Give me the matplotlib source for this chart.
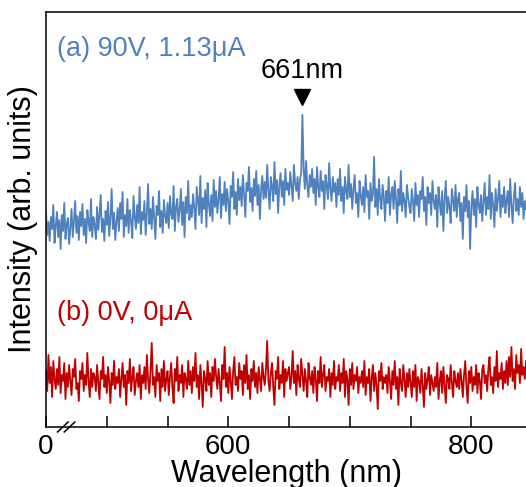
import numpy as np
import matplotlib as mpl
import matplotlib.pyplot as plt

mpl.rcParams.update({
    "font.family": ["Liberation Sans", "DejaVu Sans"],
    "axes.linewidth": 1.1,
})

C_BLUE = "#4F81BD"
C_RED = "#C00000"

# wavelength grid (nm), every 1 nm
wavelength = np.arange(450, 846, 1)

# (a) 90 V, 1.13 uA (arb. units)
spec_a = [
    214, 192, 205, 186, 210, 198, 222, 184, 201, 215, 190, 207, 178, 212, 196, 224, 188, 203, 209, 183,
    199, 218, 190, 206, 226, 194, 211, 187, 215, 201, 223, 192, 208, 184, 217, 205, 196, 228, 190, 210,
    203, 188, 220, 197, 212, 232, 195, 208, 186, 216, 202, 225, 191, 209, 238, 198, 214, 187, 205, 219,
    196, 224, 208, 235, 190, 212, 201, 228, 194, 217, 206, 189, 231, 210, 198, 222, 204, 240, 193, 215,
    207, 226, 192, 214, 243, 203, 218, 198, 230, 209, 188, 221, 212, 236, 200, 216, 194, 227, 211, 204,
    224, 199, 231, 213, 208, 241, 196, 220, 228, 205, 217, 238, 202, 225, 190, 230, 214, 246, 207, 222,
    210, 233, 219, 198, 240, 226, 212, 251, 204, 229, 218, 237, 200, 244, 223, 211, 232, 206, 247, 220,
    236, 214, 228, 250, 209, 233, 222, 245, 216, 238, 226, 203, 241, 230, 255, 218, 235, 212, 248, 227,
    240, 221, 252, 232, 210, 244, 236, 260, 225, 239, 216, 248, 231, 256, 222, 242, 208, 238, 251, 228,
    245, 229, 262, 236, 218, 250, 240, 226, 265, 233, 247, 214, 242, 254, 230, 246, 222, 258, 237, 244,
    232, 255, 240, 226, 262, 244, 236, 250, 228, 248, 254, 312, 258, 238, 266, 242, 230, 252, 240, 258,
    234, 248, 222, 260, 240, 230, 256, 236, 246, 218, 252, 241, 228, 264, 238, 226, 250, 235, 244, 220,
    248, 232, 258, 226, 240, 214, 250, 236, 228, 262, 230, 243, 218, 238, 252, 224, 234, 210, 246, 231,
    222, 240, 215, 252, 230, 236, 208, 244, 226, 232, 270, 220, 238, 212, 248, 228, 218, 242, 230, 206,
    236, 224, 250, 212, 232, 240, 218, 246, 228, 204, 238, 222, 256, 216, 234, 226, 210, 242, 230, 220,
    214, 238, 226, 206, 244, 222, 232, 210, 236, 228, 250, 216, 230, 202, 240, 224, 234, 212, 246, 226,
    218, 232, 200, 240, 224, 212, 236, 196, 228, 246, 214, 230, 220, 204, 238, 226, 216, 242, 210, 228,
    234, 206, 224, 188, 230, 216, 242, 210, 226, 178, 220, 236, 212, 228, 200, 240, 222, 214, 232, 206,
    226, 244, 212, 230, 218, 252, 208, 234, 222, 200, 238, 216, 228, 246, 210, 232, 220, 240, 214, 226,
    236, 210, 248, 222, 204, 230, 244, 216, 228, 212, 240, 220, 234, 208, 226, 218,
]

# (b) 0 V, 0 uA
spec_b = [
    56, 36, 72, 44, 60, 30, 66, 48, 38, 58, 42, 70, 34, 52, 46, 64, 28, 54, 40, 62,
    46, 32, 58, 50, 68, 38, 44, 26, 56, 48, 64, 36, 52, 42, 74, 46, 30, 58, 40, 54,
    50, 36, 62, 44, 28, 56, 48, 70, 40, 52, 34, 60, 46, 24, 54, 42, 66, 38, 50, 44,
    58, 30, 48, 64, 40, 52, 22, 56, 44, 68, 36, 50, 60, 32, 46, 54, 40, 62, 28, 52,
    44, 60, 38, 72, 48, 34, 56, 84, 42, 50, 30, 62, 46, 54, 26, 58, 40, 66, 36, 48,
    56, 32, 50, 64, 40, 24, 58, 46, 70, 36, 52, 44, 62, 30, 54, 48, 38, 66, 42, 56,
    34, 60, 46, 74, 40, 52, 28, 62, 44, 20, 56, 48, 36, 66, 42, 54, 30, 60, 46, 68,
    50, 38, 58, 44, 26, 62, 48, 80, 40, 54, 34, 60, 46, 28, 56, 70, 42, 50, 36, 64,
    48, 56, 32, 62, 44, 72, 38, 52, 28, 58, 46, 66, 40, 54, 34, 60, 48, 36, 64, 50,
    42, 58, 86, 46, 36, 54, 64, 40, 22, 56, 48, 70, 38, 52, 44, 66, 30, 58, 46, 54,
    60, 38, 50, 76, 44, 56, 32, 62, 48, 40, 68, 52, 36, 58, 46, 30, 64, 50, 42, 56,
    34, 60, 48, 26, 56, 44, 70, 40, 52, 62, 36, 50, 46, 58, 30, 54, 42, 66, 38, 50,
    46, 62, 36, 54, 44, 68, 30, 56, 48, 22, 58, 42, 64, 38, 52, 46, 60, 34, 50, 44,
    56, 40, 66, 32, 50, 44, 58, 26, 48, 62, 36, 54, 42, 18, 56, 46, 64, 38, 50, 44,
    52, 34, 60, 46, 28, 56, 42, 66, 38, 50, 22, 58, 44, 36, 62, 48, 30, 54, 40, 58,
    44, 30, 56, 40, 62, 26, 50, 46, 34, 58, 42, 20, 54, 38, 48, 60, 32, 52, 44, 36,
    50, 40, 64, 28, 46, 56, 34, 60, 42, 24, 52, 48, 38, 62, 44, 30, 56, 46, 40, 54,
    38, 58, 46, 30, 52, 66, 40, 24, 56, 44, 60, 36, 50, 42, 62, 34, 54, 46, 28, 58,
    62, 44, 52, 36, 58, 70, 42, 50, 34, 60, 46, 76, 40, 54, 48, 64, 38, 56, 44, 66,
    42, 70, 50, 80, 46, 58, 38, 72, 54, 62, 44, 78, 52, 60, 48, 66,
]

x_ticks = [450, 500, 550, 600, 650, 700, 750, 800]
x_ticklabels = ["0", "", "", "600", "", "", "", "800"]
peak_nm = 661

fig = plt.figure(figsize=(5.26, 4.87), dpi=100)
ax = fig.add_axes([0.0875, 0.1232, 0.9125, 0.8522])

ax.plot(wavelength, spec_a, color=C_BLUE, linewidth=1.3)
ax.plot(wavelength, spec_b, color=C_RED, linewidth=1.3)

ax.set_xlim(450, 845)
ax.set_ylim(0, 415)
ax.spines["right"].set_visible(False)

ax.set_xticks(x_ticks)
ax.set_xticklabels(x_ticklabels, fontsize=20)
ax.tick_params(axis="x", direction="in", length=8, width=1.1, pad=5)
ax.set_yticks([])

ax.set_xlabel("Wavelength (nm)", fontsize=22, labelpad=-1)
ax.set_ylabel("Intensity (arb. units)", fontsize=22, labelpad=6)

# axis break mark
for dx in (0.0, 0.014):
    ax.plot([0.024 + dx, 0.046 + dx], [-0.012, 0.012], transform=ax.transAxes,
            color="black", linewidth=1.1, clip_on=False)

ax.text(0.022, 0.91, "(a) 90V, 1.13\u03bcA", transform=ax.transAxes,
        fontsize=19.5, color=C_BLUE, ha="left", va="center")
ax.text(0.022, 0.274, "(b) 0V, 0\u03bcA", transform=ax.transAxes,
        fontsize=19.5, color=C_RED, ha="left", va="center")

# peak marker
ax.plot(peak_nm, 330, marker="v", markersize=11, color="black", clip_on=False)
ax.text(peak_nm, 356, "661nm", fontsize=19.5, ha="center", va="center")

fig.savefig("out.png", dpi=100)
